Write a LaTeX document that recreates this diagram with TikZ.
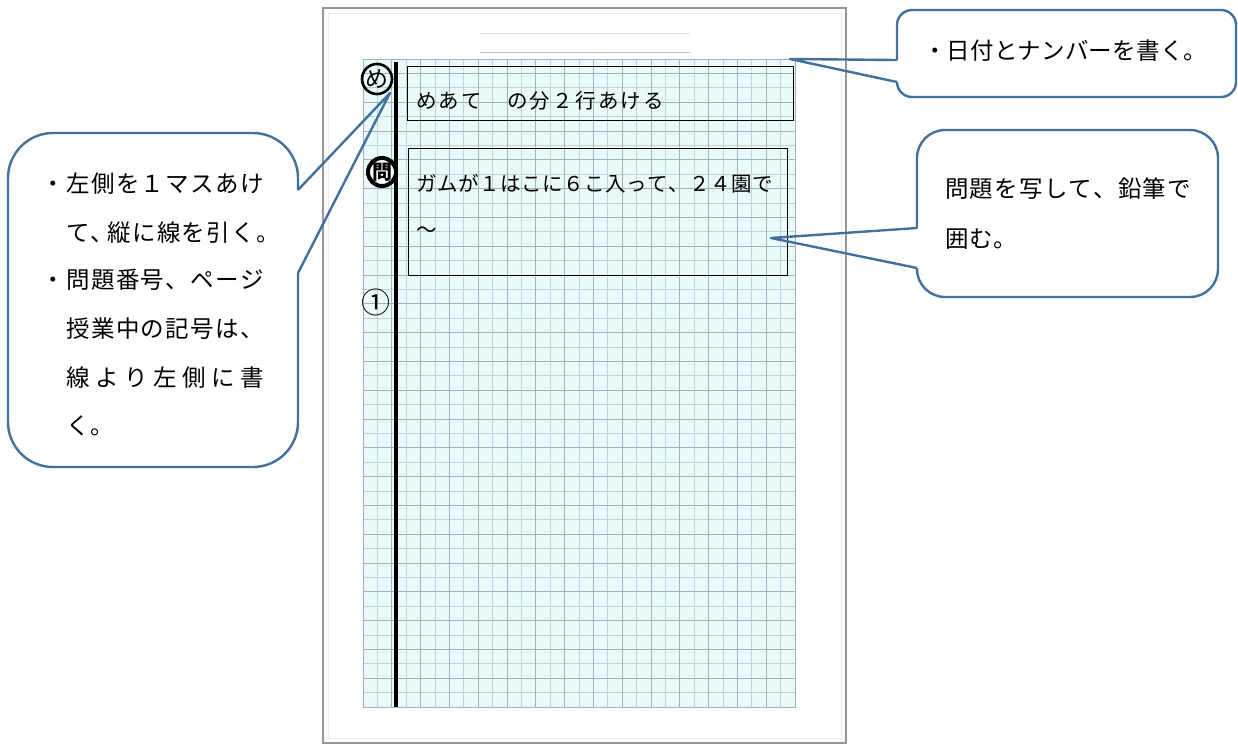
\documentclass[tikz,border=0pt]{standalone}
\usepackage{fontspec}
\setmainfont{Noto Sans CJK JP}
\ExplSyntaxOn
\NewDocumentCommand\spaced{mm}{\makebox[#1][s]{\tl_map_inline:nn{#2}{##1\hfil}\unskip}}
\ExplSyntaxOff
\definecolor{callblue}{RGB}{65,113,156}
\definecolor{gridbg}{RGB}{234,249,250}
\definecolor{gridln}{RGB}{192,210,213}
\definecolor{gridmj}{RGB}{160,180,183}
\definecolor{paperln}{RGB}{150,150,150}
\tikzset{
  callout/.style={draw=callblue, line width=2.4pt, line join=round},
  jt/.style={inner sep=0pt, anchor=base west, font=\fontsize{23.5}{28}\selectfont},
  bt/.style={inner sep=0pt, anchor=base west, font=\fontsize{20.5}{24}\selectfont},
  notebox/.style={draw=black, line width=1.2pt, inner sep=0pt, anchor=north west},
}
\begin{document}
\begin{tikzpicture}[x=1pt,y=-1pt]
\useasboundingbox (0,0) rectangle (1238,745);
\fill[white] (0,0) rectangle (1238,745);
% paper
\draw[paperln, line width=2.2pt] (323,8) rectangle (846,743);
\draw[gray!15, line width=0.8pt] (328,13) rectangle (841,738);
\draw[gray!25] (480,33) -- (690,33);
\draw[gray!45] (480,52) -- (690,52);
% grid
\fill[gridbg] (363,59) rectangle (795,707);
\foreach \i in {0,...,30} \draw[gridln, line width=1pt] ({363+\i*14.4},59) -- ({363+\i*14.4},707);
\foreach \j in {0,...,45} \draw[gridln, line width=1pt] (363,{59+\j*14.4}) -- (795,{59+\j*14.4});
\foreach \i in {0,2,...,30} \draw[gridmj, line width=1pt] ({363+\i*14.4},59) -- ({363+\i*14.4},707);
\foreach \j in {1,3,...,45} \draw[gridmj, line width=1pt] (363,{59+\j*14.4}) -- (795,{59+\j*14.4});
\draw[gridmj, line width=1pt] (363,59) rectangle (795,707);
% margin line
\draw[black, line width=3.6pt] (396,62) -- (396,707);
% boxes
\node[notebox, minimum width=386pt, minimum height=54pt] (meate) at (407,66) {};
\node[notebox, minimum width=379pt, minimum height=127pt] (mondai) at (408,148) {};
\node[bt] (t1) at (416,108) {\spaced{248pt}{めあて　の分２行あける}};
\node[bt] (t2) at (416,191) {\spaced{357pt}{ガムが１はこに６こ入って、２４園で}};
\node[bt] (t3) at (416,237) {〜};
% markers
\node[circle, draw, line width=2.6pt, minimum size=30pt, inner sep=0pt, font=\fontsize{23}{23}\selectfont] (me) at (377,79) {め};
\node[circle, draw, line width=4pt, fill=white, minimum size=28pt, inner sep=0pt, font=\bfseries\fontsize{20}{20}\selectfont] (mon) at (382,172) {問};
\node[inner sep=0pt, font=\fontsize{29}{29}\selectfont] (one) at (376,302) {①};
% callout: top right
\coordinate (tipA) at (790,59);
\coordinate (a1) at (897,60);
\coordinate (a2) at (897,82);
\draw[callout, rounded corners=15pt] (a1) -- (897,10) -- (1236,10) -- (1236,97) -- (897,97) -- (a2);
\draw[callout] (a1) -- (tipA) -- (a2);
\node[jt] (ta) at (923,59) {\spaced{284pt}{・日付とナンバーを書く。}};
% callout: right middle
\coordinate (tipB) at (771,238);
\coordinate (b1) at (917,228);
\coordinate (b2) at (917,268);
\draw[callout, rounded corners=28pt] (b1) -- (917,130) -- (1218,130) -- (1218,297) -- (917,297) -- (b2);
\draw[callout] (b1) -- (tipB) -- (b2);
\node[jt] (tb1) at (945,197) {\spaced{246pt}{問題を写して、鉛筆で}};
\node[jt] (tb2) at (945,247) {\spaced{72pt}{囲む。}};
% callout: left
\coordinate (tipC) at (390,93);
\coordinate (c1) at (298,190);
\coordinate (c2) at (298,273);
\draw[callout, rounded corners=45pt] (c1) -- (298,133) -- (8,133) -- (8,467) -- (298,467) -- (c2);
\draw[callout] (c1) -- (tipC) -- (c2);
\node[jt, anchor=base] (bul1) at (53,192) {・};
\node[jt] (tc1) at (66,192) {\spaced{198pt}{左側を１マスあけ}};
\node[jt] (tc2a) at (66,241) {\spaced{48pt}{て、}};
\node[jt] (tc2b) at (107,241) {\spaced{173pt}{縦に線を引く。}};
\node[jt, anchor=base] (bul2) at (53,288) {・};
\node[jt] (tc3) at (66,288) {\spaced{198pt}{問題番号、ページ}};
\node[jt] (tc4) at (66,337) {\spaced{198pt}{授業中の記号は、}};
\node[jt] (tc5) at (66,386) {\spaced{198pt}{線より左側に書}};
\node[jt] (tc6) at (66,434) {\spaced{48pt}{く。}};
\end{tikzpicture}
\end{document}
